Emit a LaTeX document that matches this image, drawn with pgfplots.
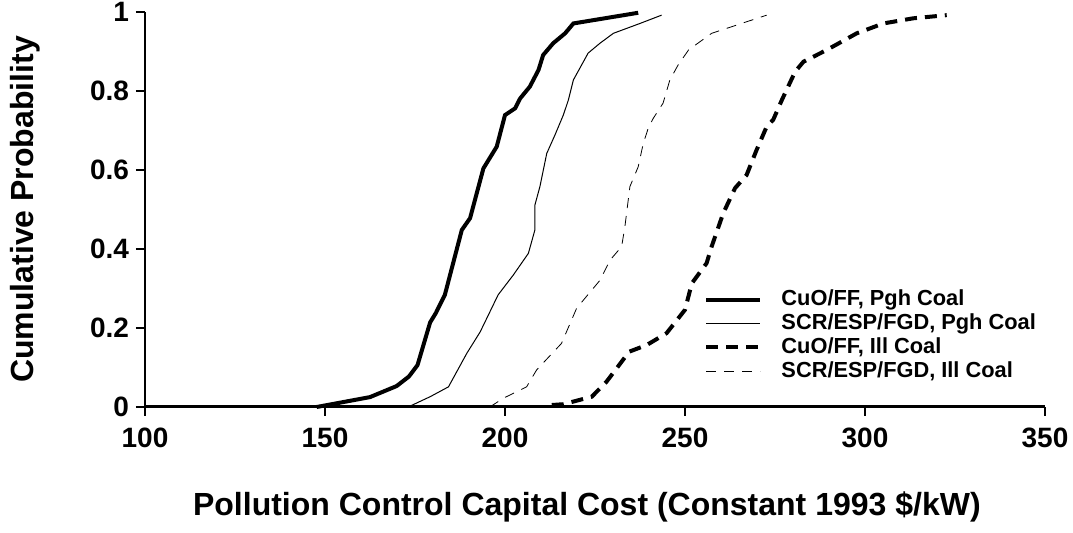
\documentclass[border=0pt]{standalone}
\usepackage{pgfplots}
\pgfplotsset{compat=1.18}
\usepackage{fontspec}
\setmainfont{Liberation Sans}
\begin{document}
\begin{tikzpicture}
\path[use as bounding box] (-72.5pt,-63pt) rectangle (464pt,203.5pt);
\begin{axis}[
  scale only axis, width=450pt, height=197.5pt,
  xmin=100, xmax=350, ymin=0, ymax=1,
  axis x line*=bottom, axis y line*=left,
  x axis line style={-, line width=1.5pt},
  y axis line style={-, line width=1pt},
  xtick={100,150,...,350}, ytick={0,0.2,0.4,0.6,0.8,1},
  yticklabels={0,0.2,0.4,0.6,0.8,1},
  tick align=outside, major tick length=4.5pt,
  tick style={line width=1pt, black},
  /pgf/number format/assume math mode=true,
  ticklabel style={font=\bfseries\fontsize{14}{14}\selectfont},
  xticklabel style={yshift=-2.5pt},
  clip=false,
  xlabel={Pollution Control Capital Cost (Constant 1993 \$/kW)},
  ylabel={Cumulative Probability},
  label style={font=\bfseries\fontsize{16}{16}\selectfont},
  xlabel style={at={(axis description cs:0.491,-0.252)}, anchor=center},
  ylabel style={at={(axis description cs:-0.133,0.5)}, anchor=center},
  legend style={draw=none, fill=none, at={(axis description cs:0.619,0.312)}, anchor=north west,
    font=\bfseries\fontsize{10.9}{12}\selectfont, row sep=-1.5pt, inner sep=1pt},
  legend cell align=left,
  legend image code/.code={\draw[#1] (0pt,0pt) -- (27pt,0pt); \path (34.5pt,0pt);},
]
\addplot[black, line width=2pt] coordinates {
(147.7,0) (162.5,0.025) (169.9,0.053) (173.3,0.077) (175.7,0.106) (179.2,0.214) (180.8,0.238) (183.3,0.284) (188,0.448) (190.3,0.478) (194,0.604) (197.7,0.659) (200,0.739) (202.8,0.756) (204.2,0.781) (206.9,0.811) (209.3,0.853) (210.6,0.891) (213.4,0.921) (216.7,0.946) (219,0.971) (237,0.998)
};
\addlegendentry{CuO/FF, Pgh Coal}
\addplot[black, line width=0.5pt] coordinates {
(173.1,0) (179.2,0.026) (184.3,0.051) (189.4,0.136) (193.1,0.19) (198.1,0.284) (202.3,0.334) (206.5,0.389) (208.3,0.448) (208.3,0.511) (209.7,0.558) (211.6,0.642) (213.9,0.689) (216.2,0.739) (217.6,0.777) (219,0.828) (223.1,0.896) (226.4,0.921) (230.1,0.946) (237.5,0.971) (243.5,0.992)
};
\addlegendentry{SCR/ESP/FGD, Pgh Coal}
\addplot[black, line width=2pt, dash pattern=on 6pt off 4pt] coordinates {
(213,0.005) (216.2,0.007) (224.1,0.026) (228.2,0.064) (234.5,0.14) (239.4,0.157) (244.9,0.187) (250,0.246) (251.9,0.313) (256,0.364) (257.4,0.406) (260.6,0.49) (263.9,0.554) (267.1,0.587) (269.9,0.651) (272.7,0.71) (274.5,0.727) (276.9,0.777) (280.6,0.849) (282.9,0.874) (289.4,0.904) (297.7,0.946) (305.1,0.971) (313.4,0.984) (322.7,0.992)
};
\addlegendentry{CuO/FF, Ill Coal}
\addplot[black, line width=0.4pt, dash pattern=on 5pt off 4pt] coordinates {
(195.8,0) (199.5,0.022) (206,0.051) (208.8,0.094) (215.7,0.161) (219.9,0.25) (226.4,0.321) (229.2,0.372) (232.4,0.406) (233.3,0.456) (234.7,0.558) (237,0.608) (238.4,0.667) (239.8,0.706) (241.2,0.731) (243.9,0.769) (245.8,0.828) (248.1,0.866) (251,0.904) (257.4,0.946) (272.7,0.992)
};
\addlegendentry{SCR/ESP/FGD, Ill Coal}
\end{axis}
\end{tikzpicture}
\end{document}
